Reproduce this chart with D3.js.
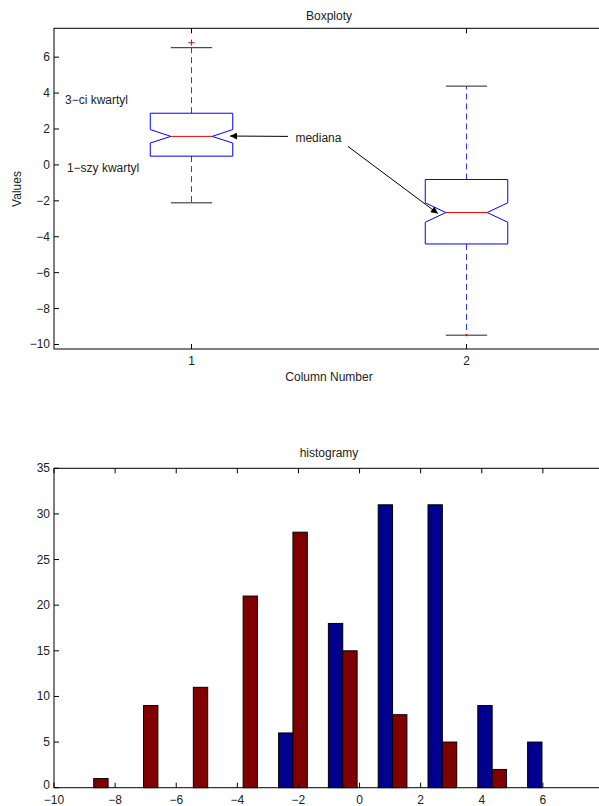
<!DOCTYPE html>
<html>
<head>
<meta charset="utf-8">
<script src="https://cdn.jsdelivr.net/npm/d3@7"></script>
<style>
  body { margin: 0; background: #fff; }
  svg text { font-family: "Liberation Sans", Arial, sans-serif; font-size: 12px; fill: #222; }
</style>
</head>
<body>
<svg id="chart" width="599" height="806"></svg>
<script>
// boxplot data
let columns = [1, 2]
let q1 = [0.46, -4.43]
let q3 = [2.85, -0.84]
let medians = [1.56, -2.68]
let notchLo = [1.19, -3.22]
let notchHi = [1.94, -2.14]
let whiskLo = [-2.14, -9.51]
let whiskHi = [6.50, 4.36]
let outliers = [{col: 1, v: 6.78}]
let capDots = [{col: 2, v: -9.51}]
let boxTicksY = [-10, -8, -6, -4, -2, 0, 2, 4, 6]

// annotations in data coords
let notes = [
    {text: "3\u2212ci kwartyl", x: 0.54, y: 3.35},
    {text: "1\u2212szy kwartyl", x: 0.547, y: -0.45},
    {text: "mediana", x: 1.378, y: 1.23}
]
let arrows = [
    {x1: 1.351, y1: 1.56, x2: 1.14, y2: 1.58},
    {x1: 1.569, y1: 1.0, x2: 1.896, y2: -2.74}
]

// histogram data
let binCenters = [-8.70, -7.07, -5.44, -3.81, -2.18, -0.55, 1.08, 2.71, 4.34, 5.97]
let countsBlue = [0, 0, 0, 0, 6, 18, 31, 31, 9, 5]
let countsRed = [1, 9, 11, 21, 28, 15, 8, 5, 2, 0]
let histTicksX = [-10, -8, -6, -4, -2, 0, 2, 4, 6]
let histTicksY = [0, 5, 10, 15, 20, 25, 30, 35]

let svg = d3.select("#chart")
let fmt = d3.format("")
let tickLen = 5

// ---------- top: boxplot ----------
let left = 54, right = 604
let x1 = d3.scaleLinear().domain([0.5, 2.5]).range([left, right])
let y1 = d3.scaleLinear().domain([-10.28, 7.58]).range([349, 28.3])

let g1 = svg.append("g")

// y axis with inside ticks
let yAx1 = g1.append("g").attr("transform", "translate(" + left + ",0)")
    .call(d3.axisRight(y1).tickValues(boxTicksY).tickSize(tickLen).tickFormat(""))
yAx1.select(".domain").remove()
yAx1.selectAll("line").attr("stroke", "#000")
g1.selectAll(".ylab1").data(boxTicksY).enter().append("text")
    .attr("x", left - 4).attr("y", d => y1(d) + 4.5)
    .attr("text-anchor", "end")
    .text(d => fmt(d).replace("-", "\u2212"))

// x ticks, bottom and top, inside
columns.forEach(c => {
    g1.append("line").attr("x1", x1(c)).attr("x2", x1(c))
        .attr("y1", y1.range()[0]).attr("y2", y1.range()[0] - tickLen).attr("stroke", "#000")
    g1.append("line").attr("x1", x1(c)).attr("x2", x1(c))
        .attr("y1", y1.range()[1]).attr("y2", y1.range()[1] + tickLen).attr("stroke", "#000")
    g1.append("text").attr("x", x1(c)).attr("y", y1.range()[0] + 16)
        .attr("text-anchor", "middle").text(c)
})

let boxHalf = 0.15, notchHalf = 0.075

columns.forEach((c, i) => {
    // whiskers
    g1.append("line").attr("x1", x1(c)).attr("x2", x1(c))
        .attr("y1", y1(q3[i])).attr("y2", y1(whiskHi[i]))
        .attr("stroke", "#3333ff").attr("stroke-dasharray", "6,4")
    g1.append("line").attr("x1", x1(c)).attr("x2", x1(c))
        .attr("y1", y1(q1[i])).attr("y2", y1(whiskLo[i]))
        .attr("stroke", "#3333ff").attr("stroke-dasharray", "6,4")
    // caps
    for (let v of [whiskHi[i], whiskLo[i]]) {
        g1.append("line").attr("x1", x1(c - notchHalf)).attr("x2", x1(c + notchHalf))
            .attr("y1", y1(v)).attr("y2", y1(v)).attr("stroke", "#222")
    }
    // notched box
    let pts = [
        [c - boxHalf, q3[i]], [c + boxHalf, q3[i]], [c + boxHalf, notchHi[i]],
        [c + notchHalf, medians[i]], [c + boxHalf, notchLo[i]], [c + boxHalf, q1[i]],
        [c - boxHalf, q1[i]], [c - boxHalf, notchLo[i]], [c - notchHalf, medians[i]],
        [c - boxHalf, notchHi[i]]
    ]
    g1.append("path")
        .attr("d", "M" + pts.map(p => x1(p[0]) + "," + y1(p[1])).join("L") + "Z")
        .attr("fill", "none").attr("stroke", "#0000ff")
    g1.append("line").attr("x1", x1(c - notchHalf)).attr("x2", x1(c + notchHalf))
        .attr("y1", y1(medians[i])).attr("y2", y1(medians[i])).attr("stroke", "#ff0000")
})

outliers.forEach(o => {
    let cx = x1(o.col), cy = y1(o.v)
    g1.append("path").attr("d", `M${cx - 3},${cy}H${cx + 3}M${cx},${cy - 3}V${cy + 3}`)
        .attr("stroke", "#ff0000")
})
capDots.forEach(o => {
    g1.append("rect").attr("x", x1(o.col) - 1).attr("y", y1(o.v) - 1)
        .attr("width", 2).attr("height", 2).attr("fill", "#ff0000")
})

// axes frame
g1.append("rect").attr("x", left).attr("y", y1.range()[1])
    .attr("width", right - left).attr("height", y1.range()[0] - y1.range()[1])
    .attr("fill", "none").attr("stroke", "#000")

// annotations
svg.append("defs").append("marker")
    .attr("id", "arr").attr("viewBox", "0 0 10 10").attr("refX", 10).attr("refY", 5)
    .attr("markerWidth", 10).attr("markerHeight", 7).attr("markerUnits", "userSpaceOnUse")
    .attr("orient", "auto")
    .append("path").attr("d", "M0,0L10,5L0,10Z").attr("fill", "#000")
notes.forEach(n => {
    g1.append("text").attr("x", x1(n.x)).attr("y", y1(n.y)).text(n.text)
})
arrows.forEach(a => {
    g1.append("line").attr("x1", x1(a.x1)).attr("y1", y1(a.y1))
        .attr("x2", x1(a.x2)).attr("y2", y1(a.y2))
        .attr("stroke", "#000").attr("marker-end", "url(#arr)")
})

g1.append("text").attr("x", (left + right) / 2).attr("y", 20)
    .attr("text-anchor", "middle").text("Boxploty")
g1.append("text").attr("x", (left + right) / 2).attr("y", 381)
    .attr("text-anchor", "middle").text("Column Number")
g1.append("text").attr("transform", "translate(21,189) rotate(-90)")
    .attr("text-anchor", "middle").text("Values")

// ---------- bottom: histogram ----------
let x2 = d3.scaleLinear().domain([-10, 8]).range([left, right])
let y2 = d3.scaleLinear().domain([0, 35]).range([787.7, 468.3])
let g2 = svg.append("g")

let barW = 0.47
let groups = binCenters.map((c, i) => ({c: c, b: countsBlue[i], r: countsRed[i]}))

g2.selectAll(".blue").data(groups).enter().append("rect")
    .attr("x", d => x2(d.c - barW)).attr("width", x2(barW) - x2(0))
    .attr("y", d => y2(d.b)).attr("height", d => y2(0) - y2(d.b))
    .attr("fill", "#00008f").attr("stroke", "#000")
g2.selectAll(".red").data(groups).enter().append("rect")
    .attr("x", d => x2(d.c)).attr("width", x2(barW) - x2(0))
    .attr("y", d => y2(d.r)).attr("height", d => y2(0) - y2(d.r))
    .attr("fill", "#800000").attr("stroke", "#000")

// ticks inside
histTicksX.forEach(t => {
    g2.append("line").attr("x1", x2(t)).attr("x2", x2(t))
        .attr("y1", y2.range()[0]).attr("y2", y2.range()[0] - tickLen).attr("stroke", "#000")
    g2.append("line").attr("x1", x2(t)).attr("x2", x2(t))
        .attr("y1", y2.range()[1]).attr("y2", y2.range()[1] + tickLen).attr("stroke", "#000")
    g2.append("text").attr("x", x2(t)).attr("y", y2.range()[0] + 16)
        .attr("text-anchor", "middle").text(fmt(t).replace("-", "\u2212"))
})
histTicksY.forEach(t => {
    g2.append("line").attr("x1", left).attr("x2", left + tickLen)
        .attr("y1", y2(t)).attr("y2", y2(t)).attr("stroke", "#000")
    g2.append("text").attr("x", left - 4).attr("y", y2(t) + (t === 0 ? 1.5 : 4))
        .attr("text-anchor", "end").text(t)
})

g2.append("rect").attr("x", left).attr("y", y2.range()[1])
    .attr("width", right - left).attr("height", y2.range()[0] - y2.range()[1])
    .attr("fill", "none").attr("stroke", "#000")

g2.append("text").attr("x", (left + right) / 2).attr("y", 457)
    .attr("text-anchor", "middle").text("histogramy")
</script>
</body>
</html>
